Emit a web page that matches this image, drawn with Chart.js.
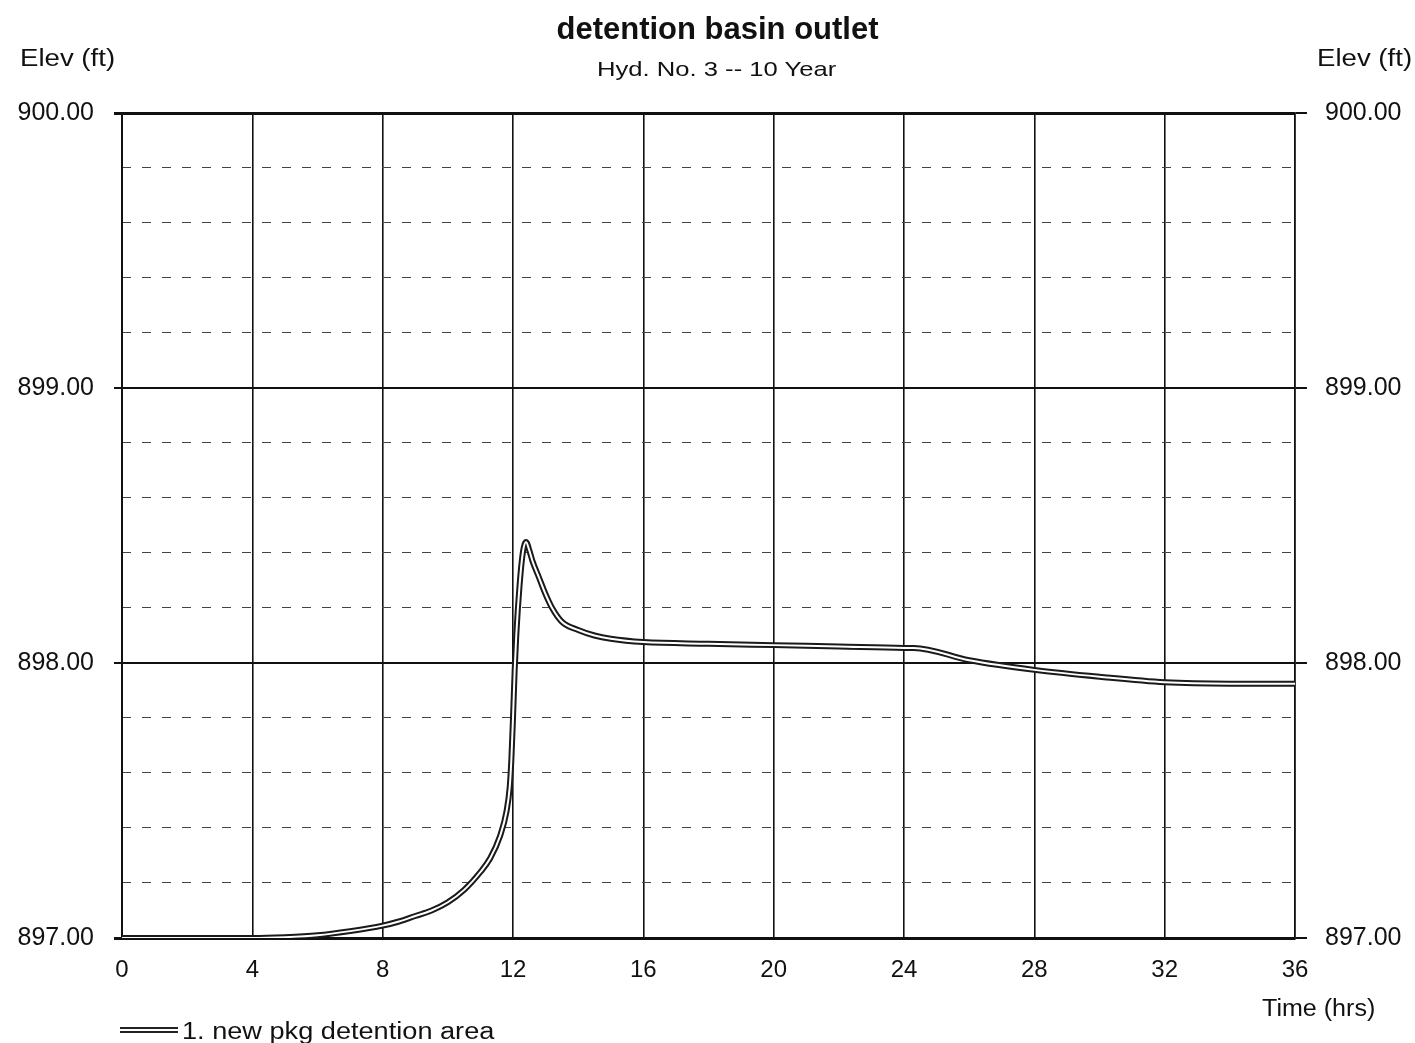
<!DOCTYPE html>
<html>
<head>
<meta charset="utf-8">
<script src="https://cdn.jsdelivr.net/npm/chart.js@4"></script>
<style>
  body { margin: 0; background: #fff; font-family: "Liberation Sans", Arial, sans-serif; }
  #wrap { position: relative; width: 1415px; height: 1043px; overflow: hidden; }
  canvas { position: absolute; left: 0; top: 0; }
  .lbl { position: absolute; color: #111; white-space: nowrap; line-height: 1; }
  #title { left: 0; width: 1435px; text-align: center; top: 13px; font-size: 31px; font-weight: bold; }
  #sub { left: 0; width: 1433px; text-align: center; top: 58px; font-size: 21px; transform: scaleX(1.22); transform-origin: 716px 0; }
  #elevL { left: 20px; top: 47px; font-size: 23px; transform: scaleX(1.2); transform-origin: 0 0; }
  #elevR { left: 1317px; top: 47px; font-size: 23px; transform: scaleX(1.2); transform-origin: 0 0; }
  #timeLbl { left: 1262px; top: 997px; font-size: 23px; transform: scaleX(1.09); transform-origin: 0 0; }
  #legTxt { left: 182px; top: 1020px; font-size: 23px; transform: scaleX(1.18); transform-origin: 0 0; }
  #legSw { position: absolute; left: 120px; top: 1027px; width: 58px; height: 2px; border-top: 2px solid #222; border-bottom: 2px solid #222; background: #fff; }
</style>
</head>
<body>
<div id="wrap">
  <canvas id="myChart" width="1415" height="1043"></canvas>
  <div class="lbl" id="title">detention basin outlet</div>
  <div class="lbl" id="sub">Hyd. No. 3 -- 10 Year</div>
  <div class="lbl" id="elevL">Elev (ft)</div>
  <div class="lbl" id="elevR">Elev (ft)</div>
  <div class="lbl" id="timeLbl">Time (hrs)</div>
  <div id="legSw"></div>
  <div class="lbl" id="legTxt">1. new pkg detention area</div>
</div>
<script>
// hydrograph data
var timeHrs = [0, 2, 4, 5, 6, 7, 8, 8.5, 9, 9.5, 10, 10.5, 11, 11.3, 11.6, 11.8, 11.9, 11.95, 12.0, 12.05, 12.1, 12.2, 12.3, 12.4, 12.5, 12.6, 12.8, 13.0, 13.2, 13.5, 14.0, 14.5, 15, 16, 18, 20, 22, 24, 24.3, 26, 28, 30, 32, 34, 36];
var elevFt = [897.00, 897.00, 897.00, 897.003, 897.01, 897.025, 897.045, 897.06, 897.08, 897.10, 897.13, 897.175, 897.24, 897.29, 897.37, 897.46, 897.55, 897.65, 897.80, 897.97, 898.1, 898.28, 898.40, 898.44, 898.41, 898.37, 898.31, 898.25, 898.20, 898.15, 898.12, 898.10, 898.088, 898.076, 898.07, 898.065, 898.06, 898.055, 898.055, 898.01, 897.975, 897.95, 897.93, 897.925, 897.925];
var seriesName = '1. new pkg detention area';
var xMin = 0, xMax = 36, xStep = 4;
var yMin = 897, yMax = 900, yStep = 1, yMinorStep = 0.2;

var pts = timeHrs.map(function(t, i){ return {x: t, y: elevFt[i]}; });

var ctx = document.getElementById('myChart').getContext('2d');
var chart = new Chart(ctx, {
    type: 'line',
    data: {
        datasets: [{
            // inner white stroke, drawn on top
            label: seriesName,
            data: pts,
            borderColor: '#ffffff',
            borderWidth: 2,
            pointRadius: 0,
            cubicInterpolationMode: 'monotone',
            order: 0,
            yAxisID: 'y'
        }, {
            // dark outline
            label: seriesName + ' (edge)',
            data: pts,
            borderColor: '#1a1a1a',
            borderWidth: 6,
            pointRadius: 0,
            cubicInterpolationMode: 'monotone',
            order: 1,
            yAxisID: 'y'
        }]
    },
    options: {
        responsive: false,
        animation: false,
        layout: { padding: { top: 113, left: 0, right: 0, bottom: 0 } },
        plugins: { legend: { display: false }, tooltip: { enabled: false } },
        scales: {
            x: {
                type: 'linear', min: xMin, max: xMax,
                ticks: { stepSize: xStep, color: '#111', padding: 18, font: { size: 24, family: 'Liberation Sans' } },
                grid: { color: '#111', lineWidth: 1.6, drawTicks: false },
                border: { color: '#111', width: 3 },
                afterFit: function(s){ s.height = 105; }
            },
            yMinor: {
                type: 'linear', position: 'left', min: yMin, max: yMax,
                ticks: { stepSize: yMinorStep, display: false },
                grid: { color: '#444', lineWidth: 1.1, drawTicks: false },
                border: { display: false, dash: [9, 11] },
                afterFit: function(s){ s.width = 0; }
            },
            y: {
                type: 'linear', position: 'left', min: yMin, max: yMax,
                ticks: { stepSize: yStep, color: '#111', padding: 20, font: { size: 25, family: 'Liberation Sans' },
                    callback: function(v){ return v.toFixed(2); } },
                grid: { color: '#111', lineWidth: function(c){ return (c.tick && (c.tick.value === yMax || c.tick.value === yMin)) ? 3 : 2; }, tickLength: 8 },
                border: { color: '#111', width: 2 },
                afterFit: function(s){ s.width = 122; }
            },
            y2: {
                type: 'linear', position: 'right', min: yMin, max: yMax,
                ticks: { stepSize: yStep, color: '#111', padding: 18, font: { size: 25, family: 'Liberation Sans' },
                    callback: function(v){ return v.toFixed(2); } },
                grid: { color: '#111', lineWidth: 2, drawOnChartArea: false, tickLength: 12 },
                border: { color: '#111', width: 1.6 },
                afterFit: function(s){ s.width = 120; }
            }
        }
    }
});
</script>
</body>
</html>
